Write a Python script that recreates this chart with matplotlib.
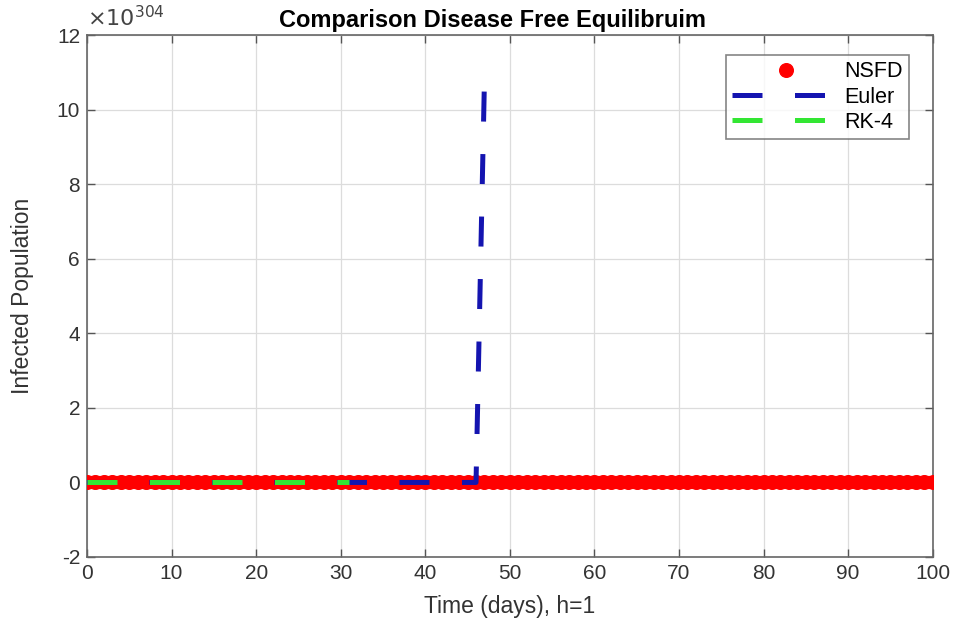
import numpy as np
import matplotlib
matplotlib.use('Agg')
import matplotlib.pyplot as plt

plt.rcParams['font.family'] = ['Liberation Sans', 'DejaVu Sans']
plt.rcParams['axes.unicode_minus'] = False

# time grid, h = 1
t = np.arange(0, 101, 1)

# infected population, in units of 1e304
nsfd = [0.0] * 101
euler = [0.0] * 47 + [10.85] + [np.nan] * 53      # overflows after day 47
rk4 = [0.0] * 32 + [np.nan] * 69                    # shown up to day 31

labels = ['NSFD', 'Euler', 'RK-4']
x_ticks = list(range(0, 101, 10))
y_ticks = list(range(-2, 13, 2))

red = (1, 0, 0)
blue = '#1414b0'
green = '#33e633'

fig = plt.figure(figsize=(9.6, 6.25), dpi=100)
ax = fig.add_axes([0.0906, 0.1088, 0.881, 0.835])

# dense markers merge into one solid band
ax.plot(t, nsfd, '-', color=red, lw=9.5, solid_capstyle='round', zorder=3)
ax.plot(t, nsfd, 'o', color=red, ms=9.8, mec=red, label=labels[0], zorder=3)
ax.plot(t, euler, '--', color=blue, lw=3.6, dashes=(6, 6.5), label=labels[1], zorder=4)
ax.plot(t, rk4, '--', color=green, lw=3.6, dashes=(6, 6.5), label=labels[2], zorder=5)

ax.set_xlim(0, 100)
ax.set_ylim(-2, 12)
ax.set_xticks(x_ticks)
ax.set_yticks(y_ticks)
ax.grid(True, color='#dcdcdc', lw=0.9)
ax.set_axisbelow(True)
ax.tick_params(direction='in', top=True, right=True, length=6, width=1,
               color='#555555', labelcolor='#333333', labelsize=15, pad=5)
for s in ax.spines.values():
    s.set_color('#666666')
    s.set_linewidth(1.2)

ax.set_title('Comparison Disease Free Equilibruim', fontsize=17, fontweight='bold',
             x=0.48, pad=6)
ax.set_xlabel('Time (days), h=1', fontsize=16.5, color='#333333', labelpad=9)
ax.set_ylabel('Infected Population', fontsize=16.5, color='#333333', labelpad=16)
ax.text(0.0, 1.008, r'$\times10^{304}$', transform=ax.transAxes, fontsize=16,
        color='#444444', ha='left', va='bottom')

leg = ax.legend(loc='upper right', bbox_to_anchor=(0.972, 0.962), fontsize=15.5,
                handlelength=5.0, fancybox=False, edgecolor='#666666',
                borderpad=0.3, labelspacing=0.2, handletextpad=0.2,
                borderaxespad=0.0)
leg.get_frame().set_linewidth(1.2)

fig.savefig('out.png', dpi=100)
